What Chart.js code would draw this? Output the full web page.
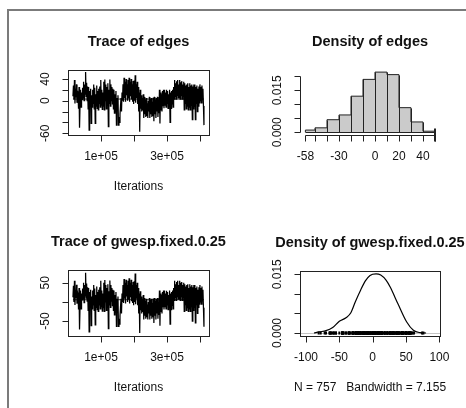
<!DOCTYPE html>
<html>
<head>
<meta charset="utf-8">
<script src="https://cdn.jsdelivr.net/npm/chart.js@4.4.1/dist/chart.umd.min.js"></script>
<style>
  html, body { margin: 0; padding: 0; background: #fff; overflow: hidden; }
  body { width: 466px; height: 408px; position: relative; }
  canvas { position: absolute; left: 0; top: 0; }
  .rule { position: absolute; background: #7b7b7b; }
  #ruleTop { left: 7px; top: 9px; width: 459px; height: 2px; }
  #ruleLeft { left: 7px; top: 9px; width: 2px; height: 399px; }
</style>
</head>
<body>
<div class="rule" id="ruleTop"></div>
<div class="rule" id="ruleLeft"></div>
<canvas id="traceEdges" width="466" height="408"></canvas>
<canvas id="densEdges" width="466" height="408"></canvas>
<canvas id="traceGwesp" width="466" height="408"></canvas>
<canvas id="densGwesp" width="466" height="408"></canvas>
<script>
// MCMC samples (thinned, evenly spaced in iterations)
const iterFirst = 15000;
const iterLast = 412000;
const edgesTrace = [
  8, 28, 2, 38, -5, 22, 6, 30, -4, 18,
  12, -15, 25, -50, -8, 20, -12, 15, 2, 24,
  5, 35, 0, 30, 12, 53, 8, 33, 0, 26,
  -15, 25, -54, 18, -8, 22, -42, 10, -12, 20,
  -5, 30, -15, 24, -42, 12, -10, 28, -14, 18,
  -17, 22, -5, 26, -12, 38, -8, 20, -16, 15,
  -10, 35, -17, 39, 0, 30, -15, 25, -8, 32,
  -48, 20, -5, 39, -10, 30, 0, 25, -6, 22,
  -15, 20, -23, 12, -20, 18, -45, 5, -18, 10,
  -45, -30, -40, -25, -10, 5, -20, 15, 0, 30,
  -2, 42, 5, 35, -2, 40, 10, 30, 0, 38,
  4, 42, -2, 35, 8, 40, 2, 30, -2, 36,
  -6, 37, 0, 47, -4, 30, 5, 35, -6, 25,
  -20, 15, -57, 20, -15, 10, -20, 5, -18, 12,
  -32, 7, -25, 2, -30, 5, -28, -5, -32, 0,
  -20, 7, -32, 3, -25, 5, -30, -2, -28, 6,
  -38, 7, -25, 2, -32, 5, -20, 7, -30, 0,
  -23, 20, -42, 15, -18, 12, -20, 18, -10, 20,
  -14, 20, -8, 15, -12, 20, -5, 18, -14, 12,
  -10, 20, -40, 15, -14, 18, -6, 20, -12, 25,
  3, 38, 8, 32, 3, 36, 10, 38, 5, 30,
  5, 38, 3, 34, 10, 36, 3, 30, 8, 35,
  -17, 32, -5, 28, -15, 30, -10, 32, -17, 25,
  -12, 32, -17, 28, -8, 30, -35, 26, -15, 30,
  -10, 30, -35, 25, -5, 28, -20, 22, -10, 26,
  -4, 30, 0, 25, -4, 28, 2, 22, -10, -45
];
const gwespTrace = [
  12, 42, 0, 55, -8, 30, 10, 45, -5, 25,
  18, -20, 36, -72, -12, 30, -18, 22, 5, 35,
  8, 50, -2, 44, 16, 76, 10, 48, 2, 38,
  -22, 36, -78, 26, -12, 32, -62, 14, -18, 30,
  -8, 44, -22, 35, -60, 18, -14, 40, -20, 26,
  -25, 32, -8, 38, -18, 55, -12, 30, -24, 22,
  -15, 50, -25, 57, 0, 44, -22, 36, -12, 46,
  -70, 28, -8, 56, -14, 44, 2, 36, -10, 32,
  -22, 30, -34, 18, -28, 26, -64, 8, -26, 14,
  -64, -44, -58, -36, -14, 8, -30, 22, 0, 44,
  -3, 60, 8, 50, -4, 58, 14, 44, 0, 55,
  6, 62, -4, 50, 12, 58, 2, 44, -3, 52,
  -9, 54, 0, 74, -6, 44, 8, 50, -9, 36,
  -30, 22, -81, 28, -22, 14, -30, 8, -26, 18,
  -46, 10, -36, 3, -44, 8, -40, -7, -46, 0,
  -30, 10, -46, 5, -36, 8, -44, -3, -40, 9,
  -55, 10, -36, 3, -46, 8, -30, 10, -44, 0,
  -34, 30, -62, 22, -26, 18, -30, 26, -14, 30,
  -20, 30, -12, 22, -18, 29, -8, 26, -20, 18,
  -14, 30, -58, 22, -20, 26, -9, 30, -18, 36,
  4, 55, 12, 46, 4, 52, 14, 55, 7, 44,
  7, 55, 4, 50, 14, 52, 4, 44, 12, 50,
  -25, 46, -7, 40, -22, 44, -15, 46, -25, 36,
  -18, 46, -25, 40, -12, 44, -50, 38, -22, 44,
  -14, 44, -55, 36, -7, 40, -30, 32, -14, 38,
  -6, 44, 0, 36, -6, 40, 3, 32, -15, -65
];
const edgesSmooth = [3, 3];
const gwespSmooth = [5.7, 5.7];

// histogram of edges
const histBreaks = [-58, -50, -40, -30, -20, -10, 0, 10, 20, 30, 40, 50];
const histDensity = [0.0008, 0.0016, 0.0045, 0.0062, 0.0129, 0.0189, 0.0215, 0.0206, 0.0088, 0.0037, 0.0004];

// kernel density of gwesp
const densX = [-88, -80, -70, -60, -50, -40, -33, -26, -18, -11, -4, 5, 12, 20, 26, 38, 51, 61, 71, 80];
const densY = [0, 0.0003, 0.0006, 0.0014, 0.0030, 0.0039, 0.0051, 0.0080, 0.0110, 0.0133, 0.0147, 0.0151, 0.0148, 0.0135, 0.0118, 0.0074, 0.0028, 0.0007, 0.0001, 0];

// axis ticks and labels
const iterTicks = [100000, 200000, 300000, 400000];
const iterLabels = ['1e+05', '', '3e+05', ''];
const edgesTicks = [-60, -40, -20, 0, 20, 40];
const edgesLabels = ['-60', '', '', '0', '', '40'];
const gwespTicks = [-50, 0, 50];
const gwespLabels = ['-50', '', '50'];
const histYTicks = [0, 0.005, 0.010, 0.015, 0.020];
const histYLabels = ['0.000', '', '', '0.015', ''];
const histXLabels = ['-58', '', '', '-30', '', '', '0', '', '20', '', '40', ''];
const densXTicks = [-100, -50, 0, 50, 100];
const densXLabels = ['-100', '-50', '0', '50', '100'];
const densYTicks = [0, 0.005, 0.010, 0.015];
const densYLabels = ['0.000', '', '', '0.015'];

const FONT = '"Liberation Sans", Arial, Helvetica, sans-serif';

const iterations = edgesTrace.map((_, i) => iterFirst + i * (iterLast - iterFirst) / (edgesTrace.length - 1));

// R-style frame: box, outward ticks, rotated y labels, bold title
const rAxes = {
  id: 'rAxes',
  beforeDatasetsDraw(chart, _args, o) {
    if (!o.zeroLine) return;
    const { ctx, chartArea: a, scales } = chart;
    const yz = Math.round(scales.y.getPixelForValue(0)) + 0.5;
    ctx.save();
    ctx.strokeStyle = '#c4c4c4';
    ctx.lineWidth = 1;
    ctx.beginPath();
    ctx.moveTo(a.left, yz);
    ctx.lineTo(a.right, yz);
    ctx.stroke();
    ctx.restore();
  },
  afterDatasetsDraw(chart, _args, o) {
    const { ctx, chartArea: a, scales: { x, y } } = chart;
    const px = (v) => Math.round(x.getPixelForValue(v)) + 0.5;
    const py = (v) => Math.round(y.getPixelForValue(v)) + 0.5;
    const L = Math.round(a.left) + 0.5;
    const B = Math.round(a.bottom) + 0.5;
    ctx.save();
    ctx.strokeStyle = '#222';
    ctx.fillStyle = '#111';
    ctx.lineWidth = 1;

    if (o.hist) {
      // inner bar edges and bar bottoms
      const h = o.hist;
      ctx.beginPath();
      for (let i = 1; i < h.breaks.length - 1; i++) {
        ctx.moveTo(px(h.breaks[i]), py(0));
        ctx.lineTo(px(h.breaks[i]), py(Math.max(h.dens[i - 1], h.dens[i])));
      }
      ctx.moveTo(px(h.breaks[0]), py(0));
      ctx.lineTo(px(h.breaks[h.breaks.length - 1]), py(0));
      ctx.stroke();
    }

    if (o.box) {
      ctx.strokeRect(L, Math.round(a.top) + 0.5, Math.round(a.right - a.left), Math.round(a.bottom - a.top));
    }
    ctx.beginPath();
    ctx.moveTo(px(o.xTicks[0]), B);
    ctx.lineTo(px(o.xTicks[o.xTicks.length - 1]), B);
    o.xTicks.forEach((v) => { ctx.moveTo(px(v), B); ctx.lineTo(px(v), B + 6); });
    ctx.moveTo(L, py(o.yTicks[0]));
    ctx.lineTo(L, py(o.yTicks[o.yTicks.length - 1]));
    o.yTicks.forEach((v) => { ctx.moveTo(L, py(v)); ctx.lineTo(L - 6, py(v)); });
    ctx.stroke();

    if (o.hist) {
      const last = o.hist.breaks[o.hist.breaks.length - 1];
      ctx.lineWidth = 2;
      ctx.beginPath();
      ctx.moveTo(Math.round(x.getPixelForValue(last)), py(0.0014));
      ctx.lineTo(Math.round(x.getPixelForValue(last)), B + 6);
      ctx.stroke();
      ctx.lineWidth = 1;
    }

    ctx.font = '12px ' + FONT;
    ctx.textAlign = 'center';
    ctx.textBaseline = 'middle';
    o.xTicks.forEach((v, i) => {
      if (o.xLabels[i]) ctx.fillText(o.xLabels[i], x.getPixelForValue(v), a.bottom + 22);
    });
    o.yTicks.forEach((v, i) => {
      if (!o.yLabels[i]) return;
      ctx.save();
      ctx.translate(a.left - 22.5, y.getPixelForValue(v));
      ctx.rotate(-Math.PI / 2);
      ctx.fillText(o.yLabels[i], 0, 0);
      ctx.restore();
    });
    if (o.sub) ctx.fillText(o.sub, (a.left + a.right) / 2, a.bottom + 51.5);
    ctx.font = 'bold 14.5px ' + FONT;
    ctx.fillText(o.title, (a.left + a.right) / 2, a.top - 28);
    ctx.restore();
  }
};

function baseOptions(area, xr, yr, axes) {
  return {
    responsive: false,
    animation: false,
    devicePixelRatio: 1,
    events: [],
    layout: { padding: { left: area[0], top: area[1], right: 466 - area[2], bottom: 408 - area[3] } },
    plugins: { legend: { display: false }, tooltip: { enabled: false }, rAxes: axes },
    scales: {
      x: { type: 'linear', display: false, min: xr[0], max: xr[1] },
      y: { type: 'linear', display: false, min: yr[0], max: yr[1] }
    }
  };
}

function traceChart(id, values, smooth, area, yr, yTicks, yLabels, title) {
  new Chart(document.getElementById(id), {
    type: 'line',
    data: {
      datasets: [
        {
          data: values.map((v, i) => ({ x: iterations[i], y: v })),
          borderColor: '#000', borderWidth: 1.25, pointRadius: 0, tension: 0
        },
        {
          data: [{ x: iterFirst, y: smooth[0] }, { x: iterLast, y: smooth[1] }],
          borderColor: '#333', borderWidth: 1, pointRadius: 0
        }
      ]
    },
    options: baseOptions(area, [0, 427273], yr, {
      title, box: true, sub: 'Iterations',
      xTicks: iterTicks, xLabels: iterLabels, yTicks, yLabels
    }),
    plugins: [rAxes]
  });
}

traceChart('traceEdges', edgesTrace, edgesSmooth, [68, 70, 209, 135], [-63.2, 56.5], edgesTicks, edgesLabels, 'Trace of edges');
traceChart('traceGwesp', gwespTrace, gwespSmooth, [68, 270, 209, 336], [-89, 83.3], gwespTicks, gwespLabels, 'Trace of gwesp.fixed.0.25');

// histogram outline as a stepped line from the bin edges
const histPoints = [{ x: histBreaks[0], y: 0 }]
  .concat(histDensity.map((d, i) => ({ x: histBreaks[i], y: d })))
  .concat([{ x: histBreaks[histBreaks.length - 1], y: histDensity[histDensity.length - 1] },
           { x: histBreaks[histBreaks.length - 1], y: 0 }]);

new Chart(document.getElementById('densEdges'), {
  type: 'line',
  data: {
    datasets: [{
      data: histPoints,
      stepped: 'before',
      fill: 'origin',
      backgroundColor: '#cbcbcb',
      borderColor: '#222',
      borderWidth: 1,
      pointRadius: 0
    }]
  },
  options: baseOptions([300, 70, 440, 135], [-62.5, 54.2], [-0.00096, 0.02225], {
    title: 'Density of edges', box: false,
    xTicks: histBreaks, xLabels: histXLabels, yTicks: histYTicks, yLabels: histYLabels,
    hist: { breaks: histBreaks, dens: histDensity }
  }),
  plugins: [rAxes]
});

new Chart(document.getElementById('densGwesp'), {
  type: 'line',
  data: {
    datasets: [
      {
        data: densX.map((v, i) => ({ x: v, y: densY[i] })),
        borderColor: '#000', borderWidth: 1.2, pointRadius: 0,
        cubicInterpolationMode: 'monotone'
      },
      {
        type: 'scatter',
        data: gwespTrace.map((v) => ({ x: v, y: 0 })),
        pointStyle: 'line', rotation: 90, radius: 1.5,
        borderColor: '#000', borderWidth: 2
      }
    ]
  },
  options: baseOptions([300, 271, 440, 336], [-109, 100.9], [-0.00076, 0.01584], {
    title: 'Density of gwesp.fixed.0.25', box: true, zeroLine: true,
    sub: 'N = 757   Bandwidth = 7.155',
    xTicks: densXTicks, xLabels: densXLabels, yTicks: densYTicks, yLabels: densYLabels
  }),
  plugins: [rAxes]
});
</script>
</body>
</html>
